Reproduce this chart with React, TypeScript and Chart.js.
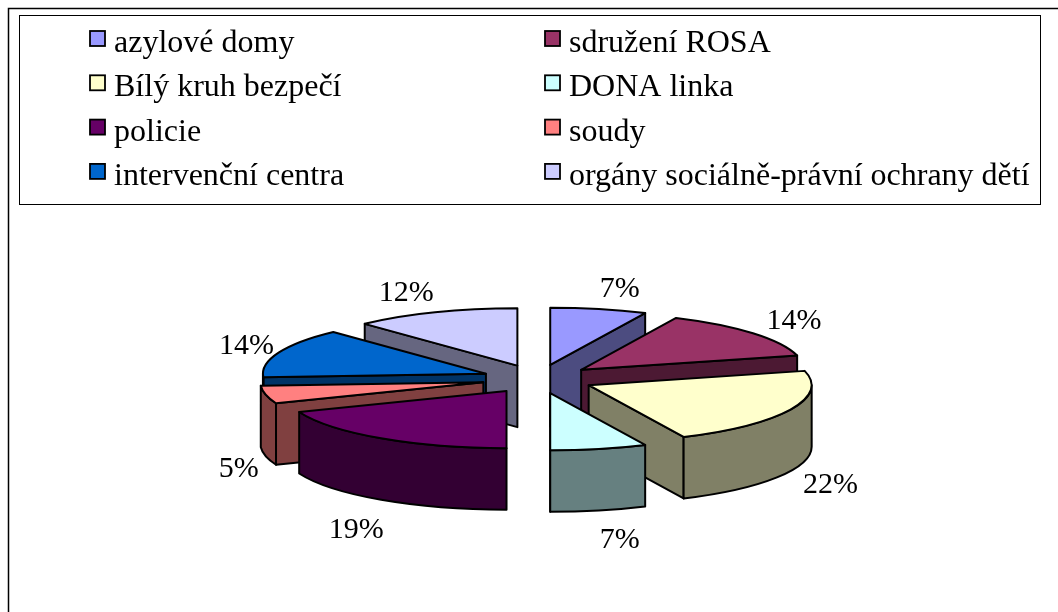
import React, { useEffect, useRef } from "react";
import { Chart, registerables } from "chart.js";

Chart.register(...registerables);

const categories = [
  "azylové domy",
  "sdružení ROSA",
  "Bílý kruh bezpečí",
  "DONA linka",
  "policie",
  "soudy",
  "intervenční centra",
  "orgány sociálně-právní ochrany dětí",
];
const shares = [7, 14, 22, 7, 19, 5, 14, 12];
const topColors = ["#9999FF", "#993366", "#FFFFCC", "#CCFFFF", "#660066", "#FF8080", "#0066CC", "#CCCCFF"];
const wallColors = ["#4C4C80", "#4C1933", "#808066", "#668080", "#330033", "#804040", "#003366", "#666680"];
const labelNudges = [
  [21, -20],
  [41, -12],
  [40, 76],
  [21, 91],
  [-25, 92],
  [-27, 74],
  [-32, -6],
  [-29, -19],
];

const SQUISH = 0.257;
const DEPTH = 61.5;
const EXPLODE = 56;
const RADIUS = 223;
const LEGEND_FONT = '32px "Liberation Serif"';
const LABEL_FONT = '30px "Liberation Serif"';
const TAU = Math.PI * 2;

function frame(ctx: CanvasRenderingContext2D) {
  ctx.save();
  ctx.fillStyle = "#ffffff";
  ctx.fillRect(0, 0, 1058, 612);
  ctx.strokeStyle = "#000000";
  ctx.lineWidth = 1.5;
  ctx.beginPath();
  ctx.moveTo(8.5, 612);
  ctx.lineTo(8.5, 8.5);
  ctx.lineTo(1058, 8.5);
  ctx.stroke();
  ctx.restore();
}

const piePlugin = {
  id: "pie3d",
  beforeDraw(chart: any) {
    frame(chart.ctx);
  },
  beforeDatasetsDraw(chart: any) {
    const ctx: CanvasRenderingContext2D = chart.ctx;
    const arcs: any[] = chart.getDatasetMeta(0).data;
    const slices = arcs.map((arc, i) => {
      const p = arc.getProps(["x", "y", "startAngle", "endAngle", "outerRadius"], true);
      const mid = (p.startAngle + p.endAngle) / 2;
      const off = arc.options.offset || 0;
      return {
        i,
        a1: p.startAngle,
        a2: p.endAngle,
        mid,
        rx: p.outerRadius,
        ry: p.outerRadius * SQUISH,
        ax: p.x + Math.cos(mid) * off,
        ay: p.y + Math.sin(mid) * off * SQUISH,
      };
    });
    const order = [...slices].sort((a, b) => Math.sin(a.mid) - Math.sin(b.mid));
    ctx.save();
    ctx.lineWidth = 2;
    ctx.strokeStyle = "#000000";
    ctx.lineJoin = "round";
    const paint = (color: string) => {
      ctx.closePath();
      ctx.fillStyle = color;
      ctx.fill();
      ctx.stroke();
    };
    for (const s of order) {
      const pt = (a: number) => [s.ax + Math.cos(a) * s.rx, s.ay + Math.sin(a) * s.ry];
      const radialWall = (a: number) => {
        const [x, y] = pt(a);
        ctx.beginPath();
        ctx.moveTo(s.ax, s.ay);
        ctx.lineTo(x, y);
        ctx.lineTo(x, y + DEPTH);
        ctx.lineTo(s.ax, s.ay + DEPTH);
        paint(wallColors[s.i]);
      };
      if (Math.cos(s.a1) < 0) radialWall(s.a1);
      if (Math.cos(s.a2) > 0) radialWall(s.a2);
      // Outer wall: the part of the rim facing the viewer.
      for (const shift of [0, TAU, -TAU]) {
        const from = Math.max(s.a1, shift);
        const to = Math.min(s.a2, Math.PI + shift);
        if (to > from) {
          ctx.beginPath();
          ctx.ellipse(s.ax, s.ay, s.rx, s.ry, 0, from, to);
          ctx.ellipse(s.ax, s.ay + DEPTH, s.rx, s.ry, 0, to, from, true);
          paint(wallColors[s.i]);
        }
      }
      ctx.beginPath();
      ctx.moveTo(s.ax, s.ay);
      ctx.ellipse(s.ax, s.ay, s.rx, s.ry, 0, s.a1, s.a2);
      paint(topColors[s.i]);
    }
    ctx.fillStyle = "#000000";
    ctx.font = LABEL_FONT;
    ctx.textAlign = "center";
    ctx.textBaseline = "middle";
    for (const s of slices) {
      const [nx, ny] = labelNudges[s.i];
      ctx.fillText(
        `${shares[s.i]}%`,
        s.ax + Math.cos(s.mid) * s.rx + nx,
        s.ay + Math.sin(s.mid) * s.ry + ny
      );
    }
    ctx.restore();
    return false;
  },
  afterDraw(chart: any) {
    const ctx: CanvasRenderingContext2D = chart.ctx;
    ctx.save();
    ctx.strokeStyle = "#000000";
    ctx.lineWidth = 1;
    ctx.strokeRect(19.5, 15.5, 1021, 189);
    ctx.font = LEGEND_FONT;
    ctx.textAlign = "left";
    ctx.textBaseline = "alphabetic";
    const labels: string[] = chart.data.labels;
    labels.forEach((label, i) => {
      const col = i % 2;
      const row = Math.floor(i / 2);
      const x = col === 0 ? 90 : 545;
      const y = 31 + row * 44.3;
      ctx.fillStyle = topColors[i];
      ctx.lineWidth = 1.8;
      ctx.fillRect(x, y, 15, 15);
      ctx.strokeRect(x, y, 15, 15);
      ctx.fillStyle = "#000000";
      ctx.fillText(label, x + 24, y + 21);
    });
    ctx.restore();
  },
};

export default function App() {
  const ref = useRef<HTMLCanvasElement | null>(null);
  useEffect(() => {
    const chart = new Chart(ref.current as HTMLCanvasElement, {
      type: "pie",
      data: {
        labels: categories,
        datasets: [
          {
            data: shares,
            backgroundColor: topColors,
            borderColor: "#000000",
            borderWidth: 2,
            offset: EXPLODE,
            radius: RADIUS,
          } as any,
        ],
      },
      options: {
        animation: false,
        responsive: false,
        layout: { padding: { left: 18, top: 146 } },
        plugins: { legend: { display: false }, tooltip: { enabled: false } },
      },
      plugins: [piePlugin],
    } as any);
    return () => chart.destroy();
  }, []);
  return (
    <canvas
      ref={ref}
      width={1058}
      height={612}
      style={{ position: "fixed", left: 0, top: 0, width: 1058, height: 612 }}
    />
  );
}
